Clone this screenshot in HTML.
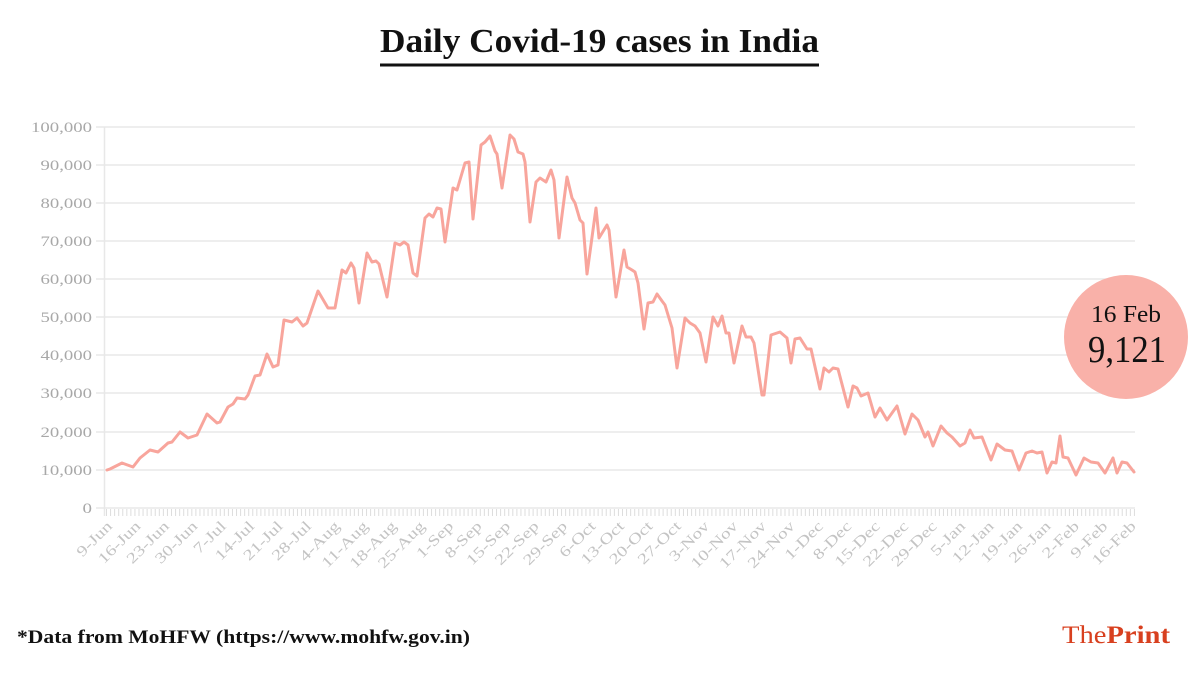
<!DOCTYPE html>
<html><head><meta charset="utf-8"><style>
html,body{margin:0;padding:0;background:#fff;}
svg{display:block;}
</style></head><body>
<svg width="1200" height="675" viewBox="0 0 1200 675" xmlns="http://www.w3.org/2000/svg">
<rect width="1200" height="675" fill="#fff"/>
<!-- Title -->
<text x="380" y="52" font-family="Liberation Serif, serif" font-weight="bold" font-size="34" fill="#111" textLength="439" lengthAdjust="spacingAndGlyphs">Daily Covid-19 cases in India</text>
<rect x="380" y="63.5" width="439" height="3" fill="#111"/>

<!-- Gridlines -->
<g stroke="#e8e8e8" stroke-width="1.5">
<line x1="96" y1="127" x2="1135" y2="127"/>
<line x1="96" y1="165" x2="1135" y2="165"/>
<line x1="96" y1="203" x2="1135" y2="203"/>
<line x1="96" y1="241" x2="1135" y2="241"/>
<line x1="96" y1="279" x2="1135" y2="279"/>
<line x1="96" y1="317" x2="1135" y2="317"/>
<line x1="96" y1="355" x2="1135" y2="355"/>
<line x1="96" y1="393" x2="1135" y2="393"/>
<line x1="96" y1="432" x2="1135" y2="432"/>
<line x1="96" y1="470" x2="1135" y2="470"/>
<line x1="96" y1="508" x2="1135" y2="508"/>
<line x1="104.5" y1="127" x2="104.5" y2="516"/>
</g>
<!-- daily ticks -->
<line x1="106" y1="512.5" x2="1135" y2="512.5" stroke="#dddddd" stroke-width="7" stroke-dasharray="1 3.063"/>

<!-- Y labels -->
<g font-family="Liberation Serif, serif" font-size="15" fill="#a8a8a8" text-anchor="end">
<text x="92" y="132" textLength="61" lengthAdjust="spacingAndGlyphs">100,000</text>
<text x="92" y="170" textLength="51.5" lengthAdjust="spacingAndGlyphs">90,000</text>
<text x="92" y="208" textLength="51.5" lengthAdjust="spacingAndGlyphs">80,000</text>
<text x="92" y="246" textLength="51.5" lengthAdjust="spacingAndGlyphs">70,000</text>
<text x="92" y="284" textLength="51.5" lengthAdjust="spacingAndGlyphs">60,000</text>
<text x="92" y="322" textLength="51.5" lengthAdjust="spacingAndGlyphs">50,000</text>
<text x="92" y="360" textLength="51.5" lengthAdjust="spacingAndGlyphs">40,000</text>
<text x="92" y="398" textLength="51.5" lengthAdjust="spacingAndGlyphs">30,000</text>
<text x="92" y="437" textLength="51.5" lengthAdjust="spacingAndGlyphs">20,000</text>
<text x="92" y="475" textLength="51.5" lengthAdjust="spacingAndGlyphs">10,000</text>
<text x="92" y="513" textLength="9.5" lengthAdjust="spacingAndGlyphs">0</text>
</g>

<!-- X labels -->
<g font-family="Liberation Serif, serif" font-size="15" fill="#c4c4c4" text-anchor="end">
<text transform="translate(113,527) rotate(-45) scale(1.3,1)">9-Jun</text>
<text transform="translate(141.4,527) rotate(-45) scale(1.3,1)">16-Jun</text>
<text transform="translate(169.9,527) rotate(-45) scale(1.3,1)">23-Jun</text>
<text transform="translate(198.3,527) rotate(-45) scale(1.3,1)">30-Jun</text>
<text transform="translate(226.8,527) rotate(-45) scale(1.3,1)">7-Jul</text>
<text transform="translate(255.2,527) rotate(-45) scale(1.3,1)">14-Jul</text>
<text transform="translate(283.6,527) rotate(-45) scale(1.3,1)">21-Jul</text>
<text transform="translate(312.1,527) rotate(-45) scale(1.3,1)">28-Jul</text>
<text transform="translate(340.5,527) rotate(-45) scale(1.3,1)">4-Aug</text>
<text transform="translate(369,527) rotate(-45) scale(1.3,1)">11-Aug</text>
<text transform="translate(397.4,527) rotate(-45) scale(1.3,1)">18-Aug</text>
<text transform="translate(425.8,527) rotate(-45) scale(1.3,1)">25-Aug</text>
<text transform="translate(454.3,527) rotate(-45) scale(1.3,1)">1-Sep</text>
<text transform="translate(482.7,527) rotate(-45) scale(1.3,1)">8-Sep</text>
<text transform="translate(511.2,527) rotate(-45) scale(1.3,1)">15-Sep</text>
<text transform="translate(539.6,527) rotate(-45) scale(1.3,1)">22-Sep</text>
<text transform="translate(568,527) rotate(-45) scale(1.3,1)">29-Sep</text>
<text transform="translate(596.5,527) rotate(-45) scale(1.3,1)">6-Oct</text>
<text transform="translate(624.9,527) rotate(-45) scale(1.3,1)">13-Oct</text>
<text transform="translate(653.4,527) rotate(-45) scale(1.3,1)">20-Oct</text>
<text transform="translate(681.8,527) rotate(-45) scale(1.3,1)">27-Oct</text>
<text transform="translate(710.2,527) rotate(-45) scale(1.3,1)">3-Nov</text>
<text transform="translate(738.7,527) rotate(-45) scale(1.3,1)">10-Nov</text>
<text transform="translate(767.1,527) rotate(-45) scale(1.3,1)">17-Nov</text>
<text transform="translate(795.6,527) rotate(-45) scale(1.3,1)">24-Nov</text>
<text transform="translate(824,527) rotate(-45) scale(1.3,1)">1-Dec</text>
<text transform="translate(852.4,527) rotate(-45) scale(1.3,1)">8-Dec</text>
<text transform="translate(880.9,527) rotate(-45) scale(1.3,1)">15-Dec</text>
<text transform="translate(909.3,527) rotate(-45) scale(1.3,1)">22-Dec</text>
<text transform="translate(937.8,527) rotate(-45) scale(1.3,1)">29-Dec</text>
<text transform="translate(966.2,527) rotate(-45) scale(1.3,1)">5-Jan</text>
<text transform="translate(994.6,527) rotate(-45) scale(1.3,1)">12-Jan</text>
<text transform="translate(1023.1,527) rotate(-45) scale(1.3,1)">19-Jan</text>
<text transform="translate(1051.5,527) rotate(-45) scale(1.3,1)">26-Jan</text>
<text transform="translate(1080,527) rotate(-45) scale(1.3,1)">2-Feb</text>
<text transform="translate(1108.4,527) rotate(-45) scale(1.3,1)">9-Feb</text>
<text transform="translate(1136.8,527) rotate(-45) scale(1.3,1)">16-Feb</text>
</g>

<!-- Line -->
<polyline fill="none" stroke="#f8a59c" stroke-width="3" stroke-linejoin="round" stroke-linecap="round" points="
107,470 110,469 122,463 133,467 140,458 150,450 158,452 168,443 172,442 180,432 188,438 197,435 207,414 217,423 220,422 228,407 233,404 237,398 245,399 248,395 255,376 260,375 267,354 273,367 278,365 284,320 292,322 297,318 303,326 307,323 318,291 328,308 335,308 342,270 346,273 351,263 354,268 359,303 367,253 372,262 376,261 379,264 387,297 395,243 400,245 404,242 408,245 413,273 417,276 425,218 429,214 433,217 437,208 441,209 445,242 453,188 457,190 465,163 469,162 473,219 481,145 485,142 490,136 495,151 497,154 502,188 510,135 514,139 518,152 523,154 525,162 530,222 536,182 540,178 546,182 551,170 554,180 559,238 567,177 572,198 575,203 580,220 583,223 587,274 596,208 599,238 607,225 609,230 616,297 624,250 627,267 632,270 635,272 638,283 644,329 648,303 653,302 657,294 662,301 665,305 672,328 677,368 685,318 690,323 695,326 700,333 706,362 713,317 718,326 722,316 726,333 729,333 734,363 742,326 746,337 751,337 754,343 762,395 764,395 771,335 777,333 780,332 787,338 791,363 795,339 800,338 807,349 811,349 820,389 824,368 829,372 833,368 838,369 848,407 853,386 857,388 861,396 868,393 875,417 880,408 887,420 897,406 905,434 912,414 918,420 925,437 928,432 933,446 941,426 947,433 952,437 960,446 965,443 970,430 974,438 982,437 991,460 997,444 1005,450 1012,451 1019,470 1026,453 1032,451 1037,453 1042,452 1047,473 1052,462 1056,463 1060,436 1063,457 1068,458 1076,475 1084,458 1091,462 1098,463 1105,473 1113,458 1117,473 1122,462 1127,463 1134,472"/>

<!-- Callout circle -->
<circle cx="1126" cy="337" r="62" fill="#f9b1a9"/>
<text x="1126" y="322" font-family="Liberation Serif, serif" font-size="24" fill="#111" text-anchor="middle" textLength="70" lengthAdjust="spacingAndGlyphs">16 Feb</text>
<text x="1127" y="362" font-family="Liberation Serif, serif" font-size="38" fill="#111" text-anchor="middle" textLength="78" lengthAdjust="spacingAndGlyphs">9,121</text>

<!-- Footer -->
<text x="17" y="643" font-family="Liberation Serif, serif" font-weight="bold" font-size="19" fill="#111" textLength="453" lengthAdjust="spacingAndGlyphs">*Data from MoHFW (https://www.mohfw.gov.in)</text>

<!-- Logo -->
<text x="1062" y="643" font-family="Liberation Serif, serif" font-size="25" fill="#d8401f" textLength="108" lengthAdjust="spacingAndGlyphs">The<tspan font-weight="bold">Print</tspan></text>
</svg>
</body></html>
